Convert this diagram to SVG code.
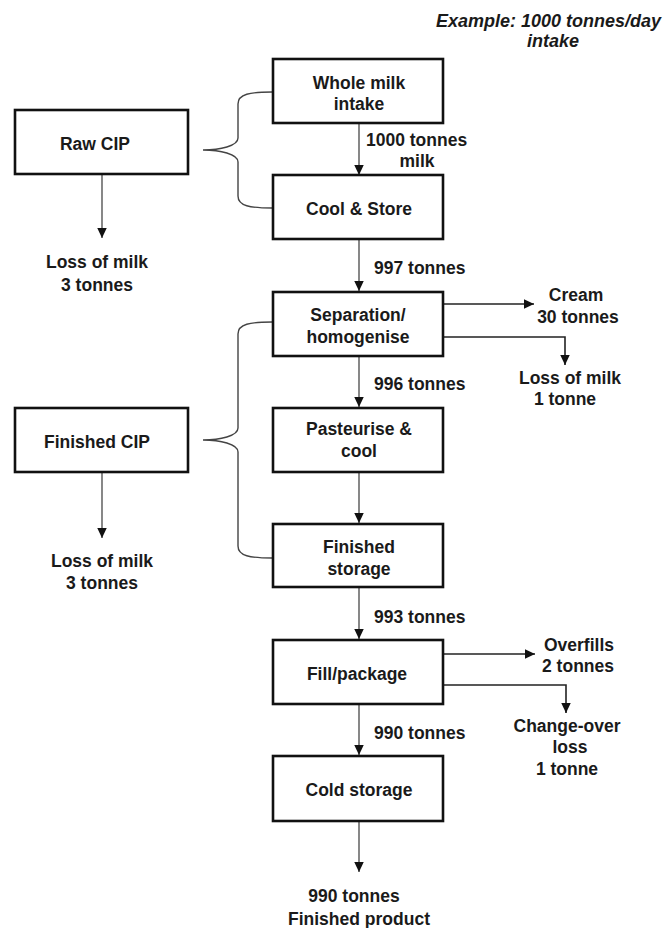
<svg xmlns="http://www.w3.org/2000/svg" width="664" height="928" viewBox="0 0 664 928">
  <style>
    .box { fill: #ffffff; stroke: #111111; stroke-width: 2.6; }
    .lbl { font-family: "Liberation Sans", Arial, sans-serif; font-weight: bold; font-size: 17.5px; fill: #1a1a1a; text-anchor: middle; }
    .flow { font-family: "Liberation Sans", Arial, sans-serif; font-weight: bold; font-size: 17.5px; fill: #1a1a1a; }
    .note { font-family: "Liberation Sans", Arial, sans-serif; font-weight: bold; font-style: italic; font-size: 18px; fill: #1a1a1a; }
    .main { fill: none; stroke: #555555; stroke-width: 1.4; marker-end: url(#arrow); }
    .branch { fill: none; stroke: #222222; stroke-width: 1.6; marker-end: url(#arrow); }
    .brace { fill: none; stroke: #444444; stroke-width: 1.4; }
  </style>
  <defs>
    <marker id="arrow" markerUnits="userSpaceOnUse" markerWidth="11" markerHeight="10" refX="10" refY="4.75" orient="auto">
      <path d="M0,0 L10,4.75 L0,9.5 z" fill="#111111"/>
    </marker>
  </defs>

  <rect width="664" height="928" fill="#ffffff"/>

  <!-- scale note -->
  <g id="note">
    <text class="note" x="661" y="27" text-anchor="end">Example: 1000 tonnes/day</text>
    <text class="note" x="553" y="47" text-anchor="middle">intake</text>
  </g>

  <!-- connectors -->
  <g id="connectors">
    <line class="main" x1="359" y1="123" x2="359" y2="175"/>
    <line class="main" x1="359" y1="239" x2="359" y2="291"/>
    <line class="main" x1="359" y1="356" x2="359" y2="407"/>
    <line class="main" x1="359" y1="472" x2="359" y2="523"/>
    <line class="main" x1="359" y1="587" x2="359" y2="639"/>
    <line class="main" x1="359" y1="704" x2="359" y2="755"/>
    <line class="main" x1="359" y1="821" x2="359" y2="872"/>
    <line class="main" x1="102" y1="174" x2="102" y2="238"/>
    <line class="main" x1="102" y1="472" x2="102" y2="538"/>
    <line class="branch" x1="443" y1="304" x2="534" y2="304"/>
    <polyline class="branch" points="443,337 565,337 565,365"/>
    <line class="branch" x1="443" y1="654" x2="535" y2="654"/>
    <polyline class="branch" points="443,685 566,685 566,713"/>
    <path class="brace" d="M272,92 C250,92 238,94 238,104 L238,138 C238,146 220,150 203,150 C220,150 238,154 238,162 L238,196 C238,206 250,208 272,208"/>
    <path class="brace" d="M272,322 C250,322 238,324 238,334 L238,428 C238,436 220,440 203,440 C220,440 238,444 238,452 L238,546 C238,556 250,558 272,558"/>
  </g>

  <!-- flow quantities -->
  <g id="flow-labels">
    <text class="flow" x="366" y="146">1000 tonnes</text>
    <text class="lbl" x="417" y="167">milk</text>
    <text class="flow" x="374" y="274">997 tonnes</text>
    <text class="flow" x="374" y="390">996 tonnes</text>
    <text class="flow" x="374" y="623">993 tonnes</text>
    <text class="flow" x="374" y="739">990 tonnes</text>
  </g>

  <!-- process steps -->
  <g id="whole-milk-intake">
    <rect class="box" x="273" y="59" width="170" height="64"/>
    <text class="lbl" x="359" y="89">Whole milk</text>
    <text class="lbl" x="359" y="110">intake</text>
  </g>
  <g id="cool-store">
    <rect class="box" x="273" y="175" width="170" height="64"/>
    <text class="lbl" x="359" y="215">Cool &amp; Store</text>
  </g>
  <g id="separation">
    <rect class="box" x="273" y="292" width="170" height="64"/>
    <text class="lbl" x="358" y="321">Separation/</text>
    <text class="lbl" x="358" y="343">homogenise</text>
  </g>
  <g id="pasteurise">
    <rect class="box" x="273" y="408" width="170" height="64"/>
    <text class="lbl" x="359" y="435">Pasteurise &amp;</text>
    <text class="lbl" x="359" y="457">cool</text>
  </g>
  <g id="finished-storage">
    <rect class="box" x="273" y="524" width="170" height="63"/>
    <text class="lbl" x="359" y="553">Finished</text>
    <text class="lbl" x="359" y="575">storage</text>
  </g>
  <g id="fill-package">
    <rect class="box" x="273" y="640" width="170" height="64"/>
    <text class="lbl" x="357" y="680">Fill/package</text>
  </g>
  <g id="cold-storage">
    <rect class="box" x="273" y="756" width="170" height="65"/>
    <text class="lbl" x="359" y="796">Cold storage</text>
  </g>

  <!-- cleaning-in-place blocks -->
  <g id="raw-cip">
    <rect class="box" x="15" y="110" width="173" height="64"/>
    <text class="lbl" x="95" y="150">Raw CIP</text>
  </g>
  <g id="finished-cip">
    <rect class="box" x="15" y="408" width="173" height="64"/>
    <text class="lbl" x="97" y="448">Finished CIP</text>
  </g>

  <!-- outputs and losses -->
  <g id="raw-cip-loss">
    <text class="lbl" x="97" y="268">Loss of milk</text>
    <text class="lbl" x="97" y="291">3 tonnes</text>
  </g>
  <g id="finished-cip-loss">
    <text class="lbl" x="102" y="567">Loss of milk</text>
    <text class="lbl" x="102" y="589">3 tonnes</text>
  </g>
  <g id="cream">
    <text class="lbl" x="576" y="301">Cream</text>
    <text class="lbl" x="578" y="323">30 tonnes</text>
  </g>
  <g id="separation-loss">
    <text class="lbl" x="570" y="384">Loss of milk</text>
    <text class="lbl" x="565" y="405">1 tonne</text>
  </g>
  <g id="overfills">
    <text class="lbl" x="579" y="651">Overfills</text>
    <text class="lbl" x="578" y="672">2 tonnes</text>
  </g>
  <g id="change-over-loss">
    <text class="lbl" x="567" y="732">Change-over</text>
    <text class="lbl" x="570" y="753">loss</text>
    <text class="lbl" x="567" y="775">1 tonne</text>
  </g>
  <g id="finished-product">
    <text class="lbl" x="354" y="902">990 tonnes</text>
    <text class="lbl" x="359" y="925">Finished product</text>
  </g>
</svg>
